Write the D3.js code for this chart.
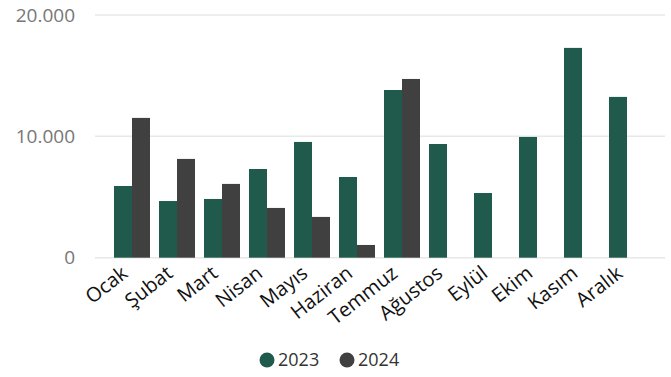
<!DOCTYPE html>
<html>
<head>
<meta charset="utf-8">
<script src="https://cdn.jsdelivr.net/npm/d3@7"></script>
<style>
  body { margin: 0; background: #fff; }
  text { font-family: "Segoe UI", "Open Sans", "Noto Sans", sans-serif; }
</style>
</head>
<body>
<div id="chart"></div>
<script>
// monthly values
let months = ['Ocak', 'Şubat', 'Mart', 'Nisan', 'Mayıs', 'Haziran', 'Temmuz', 'Ağustos', 'Eylül', 'Ekim', 'Kasım', 'Aralık'];
let series = ['2023', '2024'];
let values2023 = [5910, 4670, 4840, 7310, 9540, 6650, 13820, 9370, 5330, 9950, 17290, 13250];
let values2024 = [11520, 8140, 6080, 4100, 3360, 1050, 14730, null, null, null, null, null];
let yTicks = [0, 10000, 20000];
let colors = ['#1f5a4c', '#404040'];

let totalWidth = 671;
let totalHeight = 377;

let tempData = months.map(function(m, i) {
    return { month: m, values: [values2023[i], values2024[i]] };
});

let svg = d3.select("#chart").append("svg")
    .attr("width", totalWidth)
    .attr("height", totalHeight);

let x = d3.scaleBand()
    .domain(months)
    .range([109.5, 649.5])
    .paddingInner(0.2)
    .paddingOuter(0.1);

let xInner = d3.scaleBand()
    .domain(series)
    .range([0, x.bandwidth()]);

let y = d3.scaleLinear()
    .domain([0, 20000])
    .range([257.7, 15]);

let fmt = function(d) { return d3.format(",")(d).replace(/,/g, "."); };

// gridlines + y labels
let yAxis = svg.append("g")
    .attr("transform", "translate(95,0)")
    .call(d3.axisLeft(y).tickValues(yTicks).tickSize(0).tickPadding(20).tickFormat(fmt));
yAxis.select(".domain").remove();
yAxis.selectAll("text")
    .style("font-size", "19px")
    .style("fill", "#777");

svg.append("g")
    .selectAll("line")
    .data(yTicks)
    .enter().append("line")
    .attr("x1", 95)
    .attr("x2", 665)
    .attr("y1", function(d) { return y(d); })
    .attr("y2", function(d) { return y(d); })
    .style("stroke", "#e8e8e8")
    .style("stroke-width", 1.5);

// bars
let groups = svg.selectAll(".month")
    .data(tempData)
    .enter().append("g")
    .attr("transform", function(d) { return "translate(" + x(d.month) + ",0)"; });

groups.selectAll("rect")
    .data(function(d) {
        return series.map(function(s, i) { return { key: s, value: d.values[i], idx: i }; })
            .filter(function(e) { return e.value != null; });
    })
    .enter().append("rect")
    .attr("x", function(d) { return xInner(d.key); })
    .attr("width", xInner.bandwidth())
    .attr("y", function(d) { return y(d.value); })
    .attr("height", function(d) { return y(0) - y(d.value); })
    .style("fill", function(d) { return colors[d.idx]; });

// x axis labels
let xAxis = svg.append("g")
    .attr("transform", "translate(0," + y(0) + ")")
    .call(d3.axisBottom(x).tickSize(0).tickPadding(0));
xAxis.select(".domain").remove();
xAxis.selectAll("text")
    .attr("y", 0)
    .attr("dy", 0)
    .attr("transform", "translate(-3,18) rotate(-38)")
    .style("text-anchor", "end")
    .style("font-size", "20px")
    .style("fill", "#111");

// legend
let legend = svg.append("g");
let legendX = [267, 347];
series.forEach(function(s, i) {
    legend.append("circle")
        .attr("cx", legendX[i])
        .attr("cy", 360)
        .attr("r", 7.5)
        .style("fill", colors[i]);
    legend.append("text")
        .attr("x", legendX[i] + 11)
        .attr("y", 360)
        .attr("dy", "0.35em")
        .style("font-size", "18px")
        .style("fill", "#333")
        .text(s);
});
</script>
</body>
</html>
